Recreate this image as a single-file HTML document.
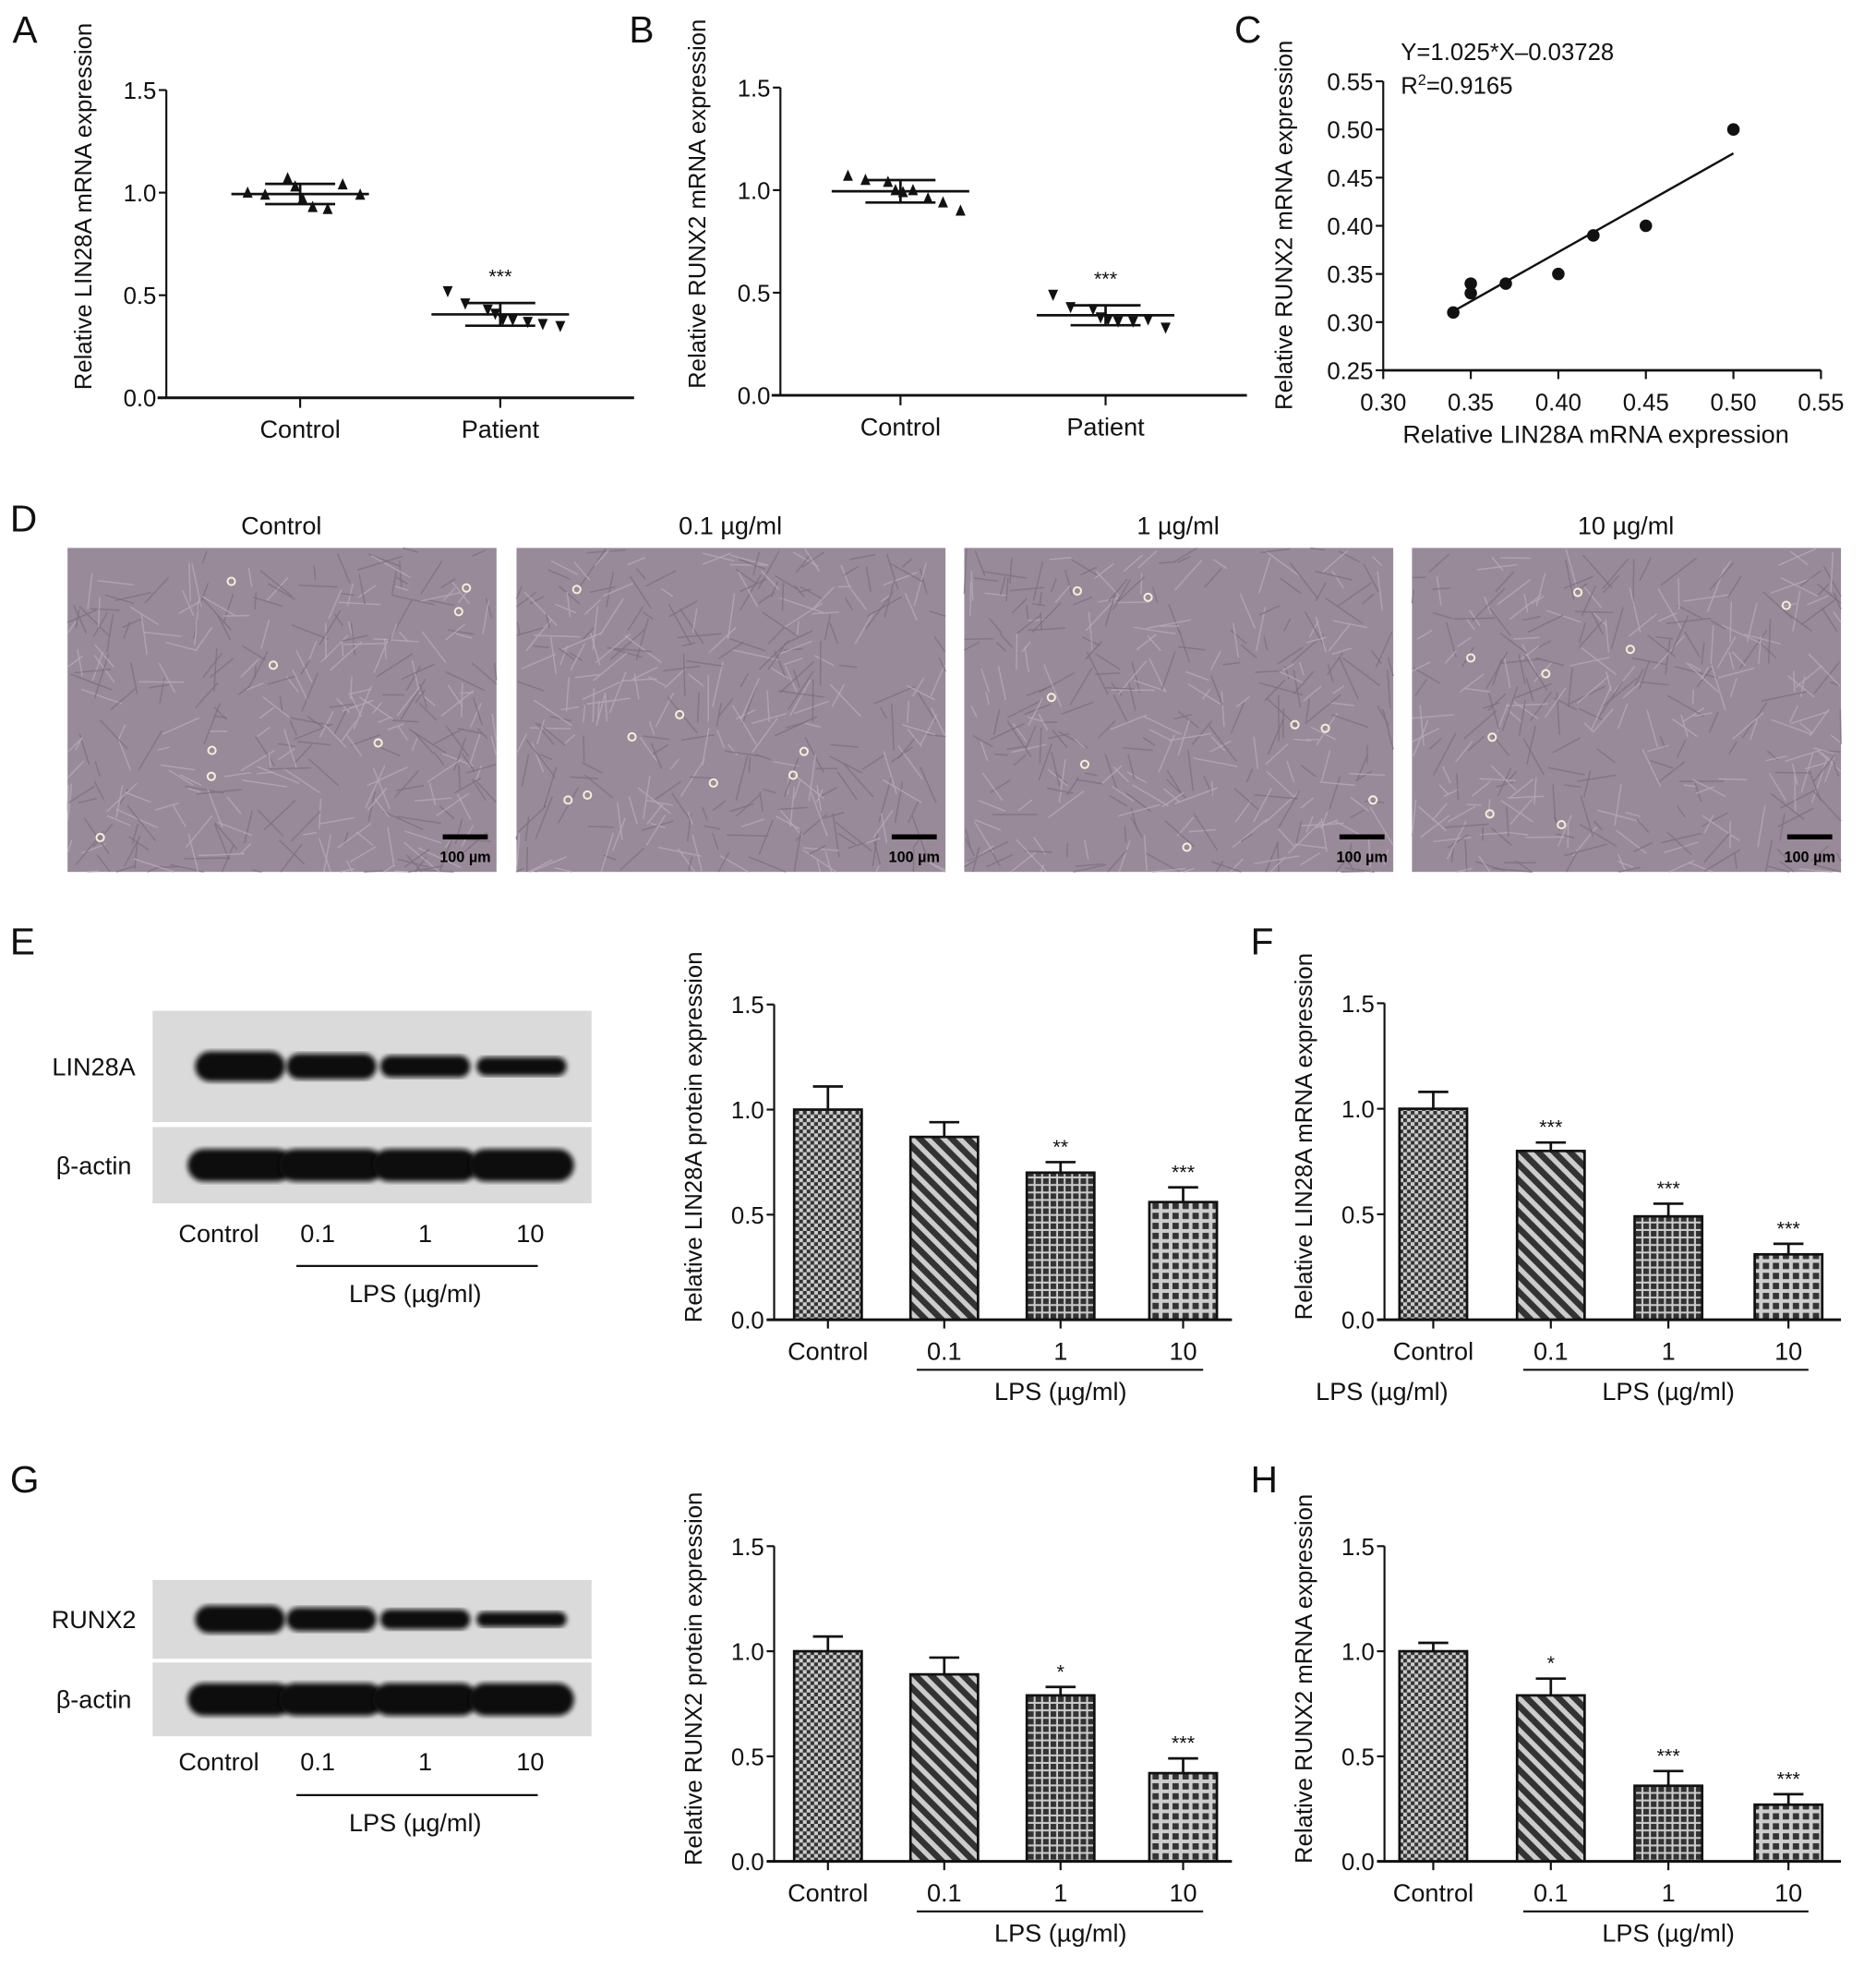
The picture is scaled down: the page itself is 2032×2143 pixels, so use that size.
<!DOCTYPE html>
<html><head><meta charset="utf-8"><style>html,body{margin:0;padding:0;background:#fff}svg{display:block}text{font-family:"Liberation Sans",sans-serif;fill:#111}</style></head>
<body>
<svg id="fig" width="2032" height="2143" viewBox="0 0 1500 1582" preserveAspectRatio="none" xmlns="http://www.w3.org/2000/svg">
<defs>
<pattern id="pCheck" width="6" height="6" patternUnits="userSpaceOnUse"><rect width="6" height="6" fill="#ccc"/><rect width="3" height="3" fill="#333"/><rect x="3" y="3" width="3" height="3" fill="#333"/></pattern>
<pattern id="pDiag" width="9" height="9" patternUnits="userSpaceOnUse" patternTransform="rotate(-45)"><rect width="9" height="9" fill="#ccc"/><rect width="5" height="9" fill="#333"/></pattern>
<pattern id="pGrid" width="6" height="6" patternUnits="userSpaceOnUse"><rect width="6" height="6" fill="#ccc"/><rect width="4.5" height="4.5" fill="#333"/></pattern>
<pattern id="pLight" width="8" height="8" patternUnits="userSpaceOnUse"><rect width="8" height="8" fill="#ccc"/><rect x="1.5" y="1.5" width="5" height="5" fill="#333"/></pattern>
<filter id="blur"><feGaussianBlur stdDeviation="2"/></filter>
</defs>
<g id="root"></g>
</svg>
<script>
// ---- data ----
const aControl=[1.00,0.99,1.07,1.03,0.97,0.93,0.92,1.04,0.99];
const aPatient=[0.52,0.46,0.43,0.41,0.38,0.38,0.37,0.36,0.35];
const bControl=[1.07,1.05,1.04,1.00,0.99,1.00,0.96,0.94,0.90];
const bPatient=[0.49,0.43,0.42,0.38,0.37,0.36,0.36,0.37,0.33];
const cX=[0.34,0.35,0.35,0.37,0.40,0.42,0.45,0.50];
const cY=[0.31,0.34,0.33,0.34,0.35,0.39,0.40,0.50];
const cSlope=1.025, cIntercept=-0.03728;
const barCats=["Control","0.1","1","10"];
const eVals=[1.00,0.87,0.70,0.56], eErr=[0.11,0.07,0.05,0.07], eStars=["","","**","***"];
const fVals=[1.00,0.80,0.49,0.31], fErr=[0.08,0.04,0.06,0.05], fStars=["","***","***","***"];
const gVals=[1.00,0.89,0.79,0.42], gErr=[0.07,0.08,0.04,0.07], gStars=["","","*","***"];
const hVals=[1.00,0.79,0.36,0.27], hErr=[0.04,0.08,0.07,0.05], hStars=["","*","***","***"];
const yTicks15=["0.0","0.5","1.0","1.5"];
const cTicks=["0.25","0.30","0.35","0.40","0.45","0.50","0.55"];
const cXTicks=["0.30","0.35","0.40","0.45","0.50","0.55"];
const dTitles=["Control","0.1 µg/ml","1 µg/ml","10 µg/ml"];
const lin28Band=[1.0,0.85,0.72,0.62];
const runxBand=[1.0,0.85,0.72,0.55];

const NS="http://www.w3.org/2000/svg";
const root=document.getElementById('root');
function el(tag,attrs,parent,txt){const e=document.createElementNS(NS,tag);for(const k in attrs)e.setAttribute(k,attrs[k]);if(txt!==undefined)e.textContent=txt;(parent||root).appendChild(e);return e;}
function line(x1,y1,x2,y2,p,w){return el('line',{x1,y1,x2,y2,stroke:'#111','stroke-width':w||1.6},p);}
function text(x,y,s,size,p,anchor,rot){const a={x,y,'font-size':size||17,'text-anchor':anchor||'middle'};if(rot)a.transform=`rotate(-90 ${x} ${y})`;return el('text',a,p,s);}
function letter(s,x,y){const t=text(x,y,s,30,root,'start');}

function yAxis(g,x,yTop,yBot,vmin,vmax,labels){
  line(x,yTop,x,yBot,g);
  labels.forEach((l,i)=>{const v=vmin+(vmax-vmin)*i/(labels.length-1);const y=yBot-(v-vmin)/(vmax-vmin)*(yBot-yTop);line(x-6,y,x,y,g);text(x-8,y+7,l,19,g,'end');});
}

// ---- scatter dot plots A,B ----
function dotPanel(name,ax,yTop,yBot,xEnd,cx1,cx2,d1,d2,title){
  const g=el('g',{});  
  const ys=v=>yBot-v/1.5*(yBot-yTop);
  yAxis(g,ax,yTop,yBot,0,1.5,yTicks15);
  line(ax-7,yBot,xEnd,yBot,g,2.2);
  [[cx1,'Control'],[cx2,'Patient']].forEach(([c,l])=>{line(c,yBot,c,yBot+8,g);text(c,yBot+32,l,20,g);});
  text(ax-60,(yTop+yBot)/2-30,title,19,g,'middle',true);
  const offs=[-42,-28,-10,-4,2,10,22,34,48];
  [[d1,cx1,'up'],[d2,cx2,'down']].forEach(([d,c,dir],k)=>{
    const mean=d.reduce((a,b)=>a+b,0)/d.length;
    const sd=Math.sqrt(d.reduce((a,b)=>a+(b-mean)**2,0)/(d.length-1));
    line(c-55,ys(mean),c+55,ys(mean),g,2);
    line(c-28,ys(mean+sd),c+28,ys(mean+sd),g,2);line(c-28,ys(mean-sd),c+28,ys(mean-sd),g,2);
    line(c,ys(mean+sd),c,ys(mean-sd),g,2);
    d.forEach((v,i)=>{const x=c+offs[i],y=ys(v);const pts=dir==='up'?`${x-4},${y+4} ${x+4},${y+4} ${x},${y-5}`:`${x-4},${y-4} ${x+4},${y-4} ${x},${y+5}`;
      const p=el('polygon',{points:pts,fill:'#111'},g);});
    if(k===1)text(c,ys(mean+sd)-16,'***',16,g);
  });
}
dotPanel('panel-a-chart',133,72,318,507,240,400,aControl,aPatient,'Relative LIN28A mRNA expression');
dotPanel('panel-b-chart',624,70,316,997,720,884,bControl,bPatient,'Relative RUNX2 mRNA expression');
letter('A',10,34);letter('B',503,34);letter('C',987,34);

// ---- panel C regression ----
(function(){
  const g=el('g',{});
  const ax=1106,yTop=65,yBot=296,xR=1456;
  const sx=v=>ax+(v-0.30)/0.25*(xR-ax), sy=v=>yBot-(v-0.25)/0.30*(yBot-yTop);
  yAxis(g,ax,yTop,yBot,0.25,0.55,cTicks);
  line(ax,yBot,xR,yBot,g,2);
  cXTicks.forEach((l,i)=>{const v=0.30+0.05*i;line(sx(v),yBot,sx(v),yBot+7,g);text(sx(v),yBot+32,l,19,g);});
  text((ax+xR)/2-5,354,'Relative LIN28A mRNA expression',20,g);
  text(1033,180,'Relative RUNX2 mRNA expression',19,g,'middle',true);
  text(1120,48,'Y=1.025*X–0.03728',19,g,'start');
  const r=text(1120,75,'R',19,g,'start');el('tspan',{dy:-7,'font-size':12},r,'2');el('tspan',{dy:7},r,'=0.9165');
  const x0=Math.min(...cX),x1=Math.max(...cX);
  const ln=line(sx(x0),sy(cSlope*x0+cIntercept),sx(x1),sy(cSlope*x1+cIntercept),g,1.8);
  cX.forEach((x,i)=>{const c=el('circle',{cx:sx(x),cy:sy(cY[i]),r:5,fill:'#111'},g);});
})();

// ---- panel D images ----
letter('D',8,425);
(function(){
  const xs=[54,413,771,1129];
  xs.forEach((x,i)=>{
    const g=el('g',{});
    text(x+171,427,dTitles[i],20,g);
    el('rect',{x,y:438,width:343,height:259,fill:'#988a99'},g);
    let s=i*97+13;const rnd=()=>{s=(s*9301+49297)%233280;return s/233280;};
    for(let k=0;k<320;k++){const px=x+rnd()*343,py=438+rnd()*259,a=rnd()*Math.PI,L=10+rnd()*28;
      el('line',{x1:px,y1:py,x2:Math.min(x+343,Math.max(x,px+Math.cos(a)*L)),y2:Math.min(697,Math.max(438,py+Math.sin(a)*L)),stroke:rnd()>0.5?'#b5a9b6':'#7f7180','stroke-width':1.1,'stroke-opacity':0.8},g);}
    for(let k=0;k<8;k++){el('circle',{cx:x+15+rnd()*313,cy:450+rnd()*235,r:3,fill:'none',stroke:'#f4eed8','stroke-width':1.5},g);}
    el('rect',{x:x+300,y:667,width:36,height:4,fill:'#000'},g);
    const t=text(x+318,689,'100 µm',12,g);t.setAttribute('font-weight','bold');t.setAttribute('style','fill:#000');
  });
})();

// ---- blots ----
function blot(name,rows,labelsY,ulY,lpsY){
  const g=el('g',{});
  const lanes=[192,265,340,417];
  rows.forEach(r=>{
    el('rect',{x:122,y:r.y,width:351,height:r.h,fill:'#dadada'},g);
    text(75,r.y+r.h/2+7,r.label,20,g);
    r.vals.forEach((v,i)=>{el('rect',{x:lanes[i]-r.w/2,y:r.y+r.h/2-r.bh*v/2,width:r.w,height:r.bh*v,rx:r.bh*v/2,fill:'#0c0c0c',filter:'url(#blur)'},g);});
  });
  ['Control','0.1','1','10'].forEach((l,i)=>text([175,254,340,424][i],labelsY,l,20,g));
  line(237,ulY,430,ulY,g,1.6);
  text(332,lpsY,'LPS (µg/ml)',20,g);
}
letter('E',8,763);
blot('panel-e-blot',[{y:808,h:89,label:'LIN28A',vals:lin28Band,w:72,bh:24},{y:901,h:61,label:'β-actin',vals:[1,1,1,1],w:84,bh:26}],993,1012,1041);
letter('G',8,1193);
blot('panel-g-blot',[{y:1263,h:63,label:'RUNX2',vals:runxBand,w:72,bh:22},{y:1329,h:59,label:'β-actin',vals:[1,1,1,1],w:84,bh:26}],1415,1435,1464);
letter('F',1000,763);letter('H',1000,1193);

// ---- bar charts ----
const pats=['url(#pCheck)','url(#pDiag)','url(#pGrid)','url(#pLight)'];
function barChart(name,ax,yTop,yBot,xEnd,centres,vals,errs,stars,title,extraLPS){
  const g=el('g',{});
  const ys=v=>yBot-v/1.5*(yBot-yTop);
  yAxis(g,ax,yTop,yBot,0,1.5,yTicks15);
  vals.forEach((v,i)=>{const c=centres[i];
    line(c,ys(v),c,ys(v+errs[i]),g,2);line(c-12,ys(v+errs[i]),c+12,ys(v+errs[i]),g,2);
    const b=el('rect',{x:c-27,y:ys(v),width:54,height:yBot-ys(v),fill:pats[i],stroke:'#111','stroke-width':2},g);
    
    if(stars[i])text(c,ys(v+errs[i])-7,stars[i],16,g);
    line(c,yBot,c,yBot+7,g);text(c,yBot+32,barCats[i],20,g);
  });
  line(ax-6,yBot,xEnd,yBot,g,2.2);
  line(centres[1]-22,yBot+40,centres[3]+16,yBot+40,g,1.6);
  text(centres[2],yBot+64,'LPS (µg/ml)',20,g);
  if(extraLPS)text(ax-2,yBot+64,'LPS (µg/ml)',20,g);
  text(ax-58,(yTop+yBot)/2-20,title,19,g,'middle',true);
}
barChart('panel-e-chart',619,803,1055,985,[662,755,848,946],eVals,eErr,eStars,'Relative LIN28A protein expression');
barChart('panel-f-chart',1107,802,1055,1472,[1146,1240,1334,1430],fVals,fErr,fStars,'Relative LIN28A mRNA expression',true);
barChart('panel-g-chart',619,1236,1488,985,[662,755,848,946],gVals,gErr,gStars,'Relative RUNX2 protein expression');
barChart('panel-h-chart',1107,1236,1488,1472,[1146,1240,1334,1430],hVals,hErr,hStars,'Relative RUNX2 mRNA expression');
</script>
</body></html>
